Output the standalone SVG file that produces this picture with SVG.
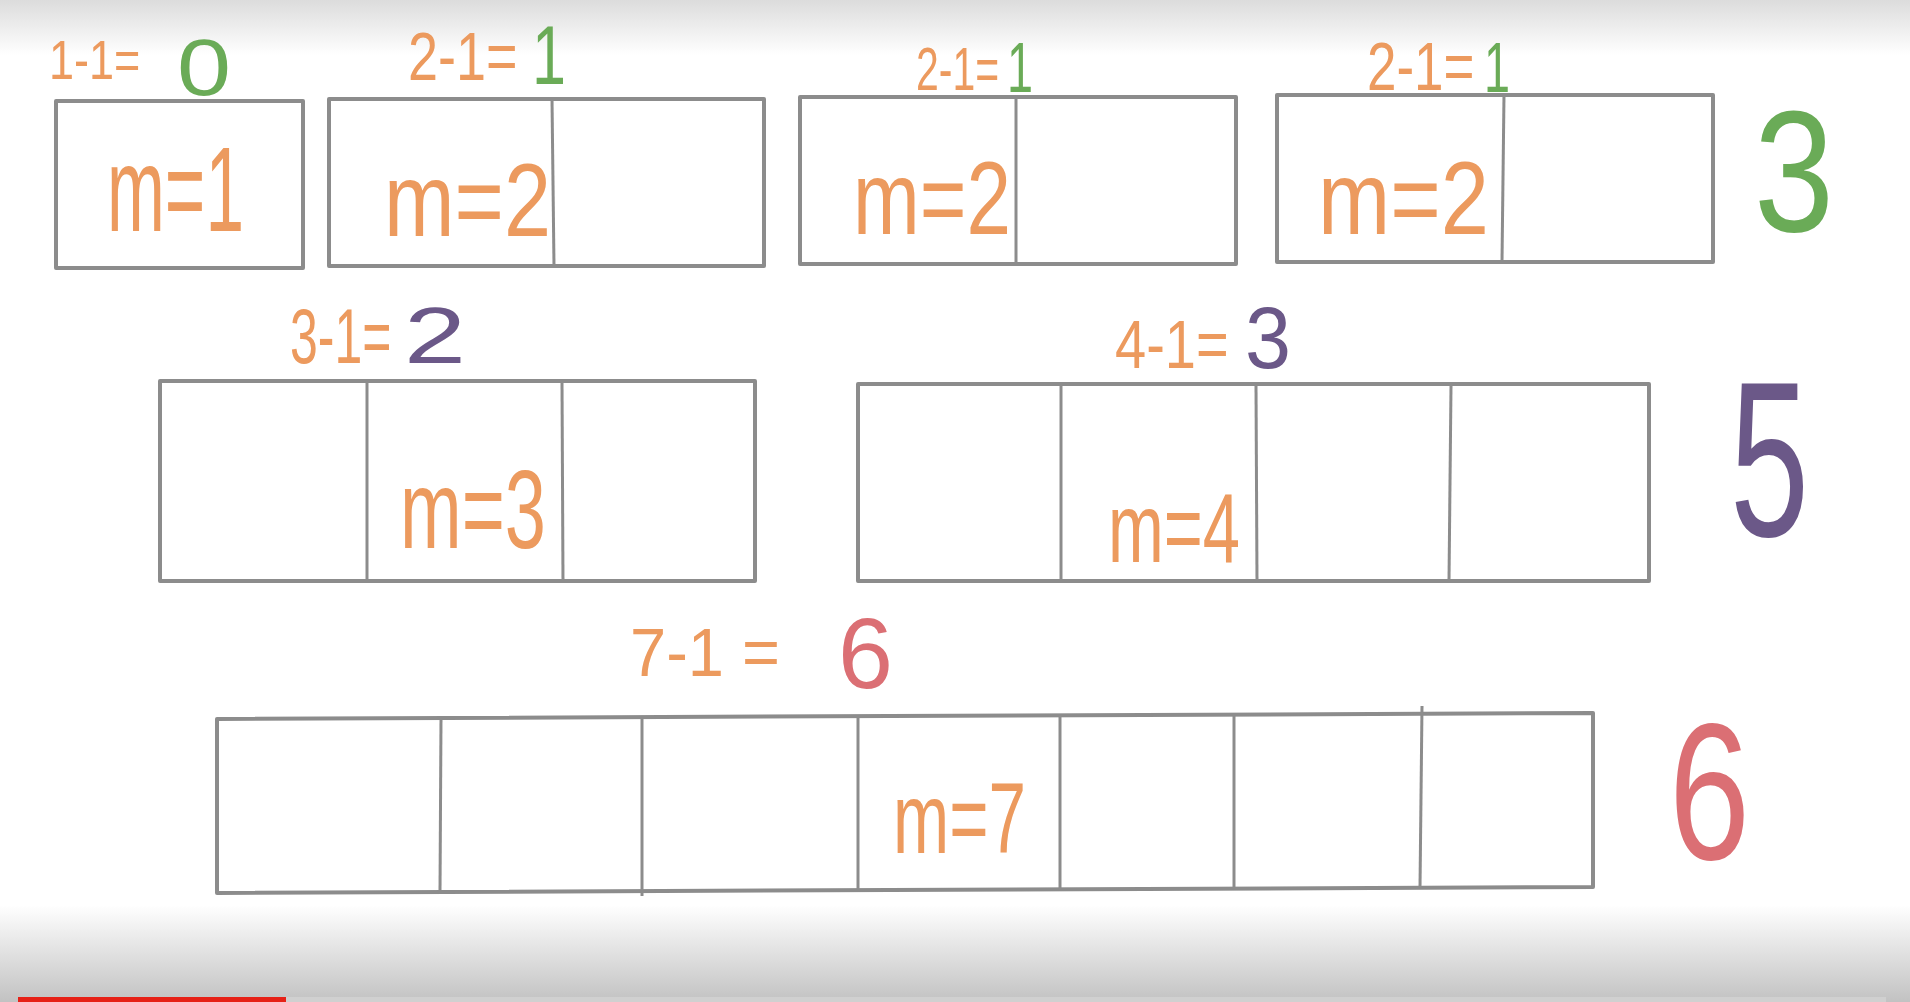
<svg xmlns="http://www.w3.org/2000/svg" width="1910" height="1002" viewBox="0 0 1910 1002">
<defs>
<linearGradient id="topg" x1="0" y1="0" x2="0" y2="1"><stop offset="0" stop-color="#dcdcdc"/><stop offset="1" stop-color="#ffffff"/></linearGradient>
<linearGradient id="botg" x1="0" y1="0" x2="0" y2="1"><stop offset="0" stop-color="#ffffff"/><stop offset="1" stop-color="#c2c2c2"/></linearGradient>
</defs>
<style>
.box{fill:none;stroke:#8c8c8c;stroke-width:4;stroke-linejoin:round}
.div{stroke:#8c8c8c;stroke-width:3}
text{font-family:"Liberation Sans","DejaVu Sans",sans-serif}
.o{fill:#ec9a5e}
.g{fill:#6aab57}
.p{fill:#6b5888}
.r{fill:#db6f74}
</style>
<rect width="1910" height="1002" fill="#ffffff"/>
<rect width="1910" height="55" fill="url(#topg)"/>
<rect y="905" width="1910" height="97" fill="url(#botg)"/>
<rect x="286" y="997" width="1600" height="5" fill="#d0d0d0"/>
<rect x="18" y="997" width="268" height="5" fill="#e62117"/>

<g id="connectors"/>

<g id="box1">
<rect class="box" x="56" y="101" width="247" height="167"/>
<text class="o" x="107" y="231" font-size="120" textLength="137" lengthAdjust="spacingAndGlyphs">m=1</text>
<text class="o" transform="translate(49,79) scale(1,1.25)" font-size="45">1-1=</text>
<text class="g" x="177" y="95" font-size="80" textLength="54" lengthAdjust="spacingAndGlyphs">0</text>
</g>

<g id="box2">
<rect class="box" x="329" y="99" width="435" height="167"/>
<line class="div" x1="552" y1="99" x2="554" y2="266"/>
<text class="o" x="384" y="236" font-size="104" textLength="167" lengthAdjust="spacingAndGlyphs">m=2</text>
<text class="o" transform="translate(408,80) scale(1,1.26)" font-size="54">2-1=</text>
<text class="g" x="532" y="84" font-size="84" textLength="34" lengthAdjust="spacingAndGlyphs">1</text>
</g>

<g id="box3">
<rect class="box" x="800" y="97" width="436" height="167"/>
<line class="div" x1="1016" y1="97" x2="1016" y2="264"/>
<text class="o" x="853" y="234" font-size="104" textLength="158" lengthAdjust="spacingAndGlyphs">m=2</text>
<text class="o" transform="translate(916,90) scale(1,1.5)" font-size="41">2-1=</text>
<text class="g" x="1007" y="92" font-size="70" textLength="26" lengthAdjust="spacingAndGlyphs">1</text>
</g>

<g id="box4">
<rect class="box" x="1277" y="95" width="436" height="167"/>
<line class="div" x1="1504" y1="95" x2="1502" y2="262"/>
<text class="o" x="1318" y="234" font-size="104" textLength="171" lengthAdjust="spacingAndGlyphs">m=2</text>
<text class="o" transform="translate(1367,90) scale(1,1.3)" font-size="53">2-1=</text>
<text class="g" x="1484" y="92" font-size="70" textLength="26" lengthAdjust="spacingAndGlyphs">1</text>
</g>

<g id="total3">
<text class="g" x="1754" y="231" font-size="173" textLength="80" lengthAdjust="spacingAndGlyphs">3</text>
</g>

<g id="box5">
<rect class="box" x="160" y="381" width="595" height="200"/>
<line class="div" x1="367" y1="383" x2="367" y2="581"/>
<line class="div" x1="562" y1="383" x2="563" y2="581"/>
<text class="o" x="400" y="548" font-size="112" textLength="146" lengthAdjust="spacingAndGlyphs">m=3</text>
<text class="o" transform="translate(290,363) scale(1,1.55)" font-size="50">3-1=</text>
<text class="p" x="404" y="363" font-size="80" textLength="62" lengthAdjust="spacingAndGlyphs">2</text>
</g>

<g id="box6">
<rect class="box" x="858" y="384" width="791" height="197"/>
<line class="div" x1="1061" y1="386" x2="1061" y2="582"/>
<line class="div" x1="1256" y1="386" x2="1257" y2="582"/>
<line class="div" x1="1451" y1="386" x2="1449" y2="581"/>
<text class="o" x="1108" y="562" font-size="98" textLength="132" lengthAdjust="spacingAndGlyphs">m=4</text>
<text class="o" transform="translate(1115,368) scale(1,1.22)" font-size="56">4-1=</text>
<text class="p" x="1245" y="368" font-size="88" textLength="46" lengthAdjust="spacingAndGlyphs">3</text>
</g>

<g id="total5">
<text class="p" x="1730" y="536" font-size="220" textLength="79" lengthAdjust="spacingAndGlyphs">5</text>
</g>

<g id="box7">
<path class="box" d="M217 719 L1593 713 L1593 887 L217 893 Z"/>
<line class="div" x1="441" y1="718" x2="440" y2="892"/>
<line class="div" x1="642" y1="717" x2="642" y2="896"/>
<line class="div" x1="858" y1="716" x2="858" y2="890"/>
<line class="div" x1="1060" y1="716" x2="1060" y2="891"/>
<line class="div" x1="1234" y1="715" x2="1234" y2="889"/>
<line class="div" x1="1422" y1="706" x2="1420" y2="888"/>
<text class="o" x="893" y="853" font-size="100" textLength="133" lengthAdjust="spacingAndGlyphs">m=7</text>
<text class="o" transform="translate(630,676) scale(1,1.05)" font-size="65">7-1 =</text>
<text class="r" x="838" y="688" font-size="100" textLength="55" lengthAdjust="spacingAndGlyphs">6</text>
</g>

<g id="total6">
<text class="r" x="1669" y="859" font-size="195" textLength="81" lengthAdjust="spacingAndGlyphs">6</text>
</g>
</svg>
